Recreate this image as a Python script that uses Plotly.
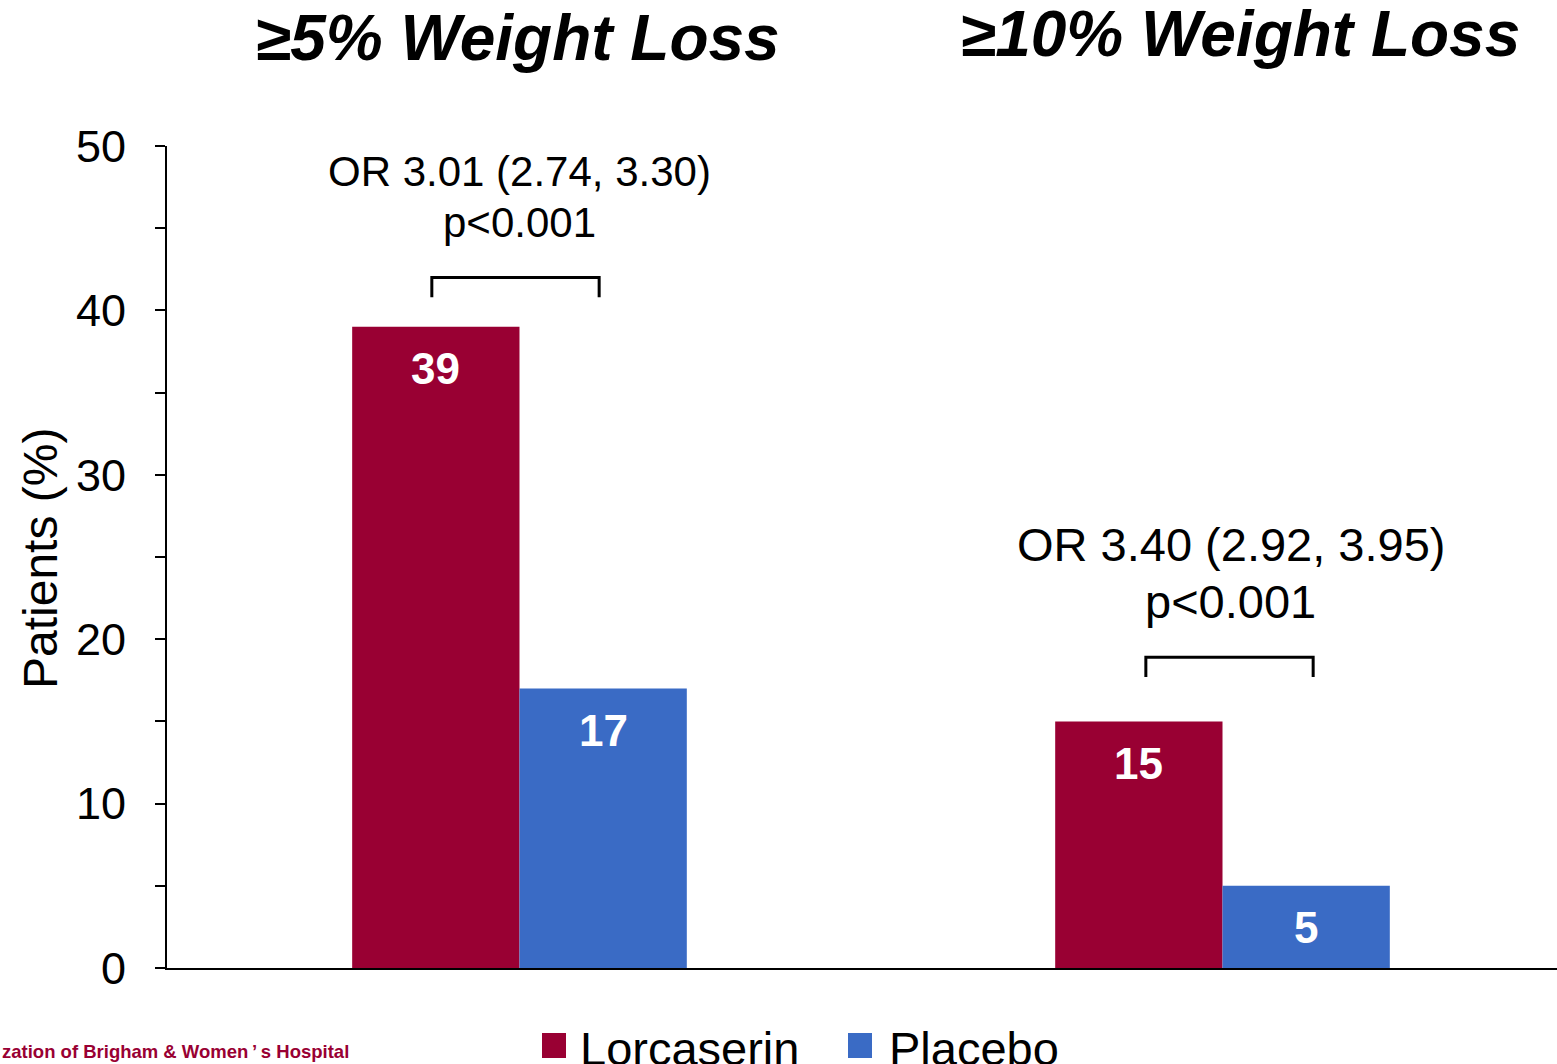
import plotly.graph_objects as go

# ---------------- data ----------------
categories = ["≥5% Weight Loss", "≥10% Weight Loss"]
series_names = ["Lorcaserin", "Placebo"]
lorcaserin = [39, 15]
placebo = [17, 5]
or_text = ["OR 3.01 (2.74, 3.30)", "OR 3.40 (2.92, 3.95)"]
p_text = ["p<0.001", "p<0.001"]
bracket_top = [42.0, 18.9]
y_ticks = [0, 10, 20, 30, 40, 50]
y_title = "Patients (%)"
footer = "zation of Brigham & Women\u2009’\u2009s Hospital"

# ---------------- styling ----------------
W, H = 1557, 1064
L, T, B = 167, 146, 96
PW, PH = W - L, H - T - B
COLORS = ["#990033", "#3A6BC5"]
FONT = "Liberation Sans, Arial, sans-serif"
BAR_W = 0.238
UNIT_PX = 703.0  # pixels per category step

def px(x):
    return (x - L) / PW

def py(y):
    return (T + PH - y) / PH

xs = list(range(len(categories)))

fig = go.Figure()
for name, vals, col in zip(series_names, [lorcaserin, placebo], COLORS):
    fig.add_trace(go.Bar(x=xs, y=vals, name=name, marker=dict(color=col, line=dict(width=0)),
                         showlegend=False, hoverinfo="skip"))

ann = []
shapes = []
# group titles
title_pos = [(517, 38), (1240, 34)]
for cat, (tx, ty) in zip(categories, title_pos):
    ann.append(dict(text="<b><i>" + cat + "</i></b>", xref="paper", yref="paper", x=px(tx), y=py(ty),
                    xanchor="center", yanchor="middle", showarrow=False,
                    font=dict(family=FONT, size=64, color="black")))

# value labels inside bars
for i in xs:
    for j, vals in enumerate([lorcaserin, placebo]):
        xc = i + (j - 0.5) * BAR_W
        ann.append(dict(text="<b>%d</b>" % vals[i], xref="x", yref="y", x=xc, y=vals[i],
                        xanchor="center", yanchor="middle", yshift=-42, showarrow=False,
                        font=dict(family=FONT, size=44, color="white")))

# OR annotations and brackets
or_sizes = [42, 47]
or_y = [(172, 222), (544, 601)]
or_dx = [0, 8]
bracket_dx = [-4, 7]
for i in xs:
    for txt, yy in zip([or_text[i], p_text[i]], or_y[i]):
        ann.append(dict(text=txt, xref="x", yref="paper", x=i, y=py(yy), xshift=or_dx[i],
                        xanchor="center", yanchor="middle", showarrow=False,
                        font=dict(family=FONT, size=or_sizes[i], color="black")))
    off = bracket_dx[i] / UNIT_PX
    x0 = i - 0.5 * BAR_W + off
    x1 = i + 0.5 * BAR_W + off
    yt = bracket_top[i]
    yb = yt - 1.2
    shapes.append(dict(type="path", xref="x", yref="y",
                       path=f"M{x0},{yb} L{x0},{yt} L{x1},{yt} L{x1},{yb}",
                       line=dict(color="black", width=3)))

# y-axis title
ann.append(dict(text=y_title, xref="paper", yref="paper", x=px(40), y=py(559), textangle=-90,
                xanchor="center", yanchor="middle", showarrow=False,
                font=dict(family=FONT, size=48, color="black")))

# custom legend
leg_sq = [(542, 566), (848, 872)]
leg_tx = [578, 887]
for name, col, (s0, s1), tx in zip(series_names, COLORS, leg_sq, leg_tx):
    shapes.append(dict(type="rect", xref="paper", yref="paper", x0=px(s0), x1=px(s1),
                       y0=py(1058), y1=py(1033), fillcolor=col, line=dict(width=0)))
    ann.append(dict(text=name, xref="paper", yref="paper", x=px(tx), y=py(1048),
                    xanchor="left", yanchor="middle", showarrow=False,
                    font=dict(family=FONT, size=47, color="black")))

# footer
ann.append(dict(text="<b>" + footer + "</b>", xref="paper", yref="paper", x=px(0), y=py(1051),
                xanchor="left", yanchor="middle", showarrow=False,
                font=dict(family=FONT, size=18.5, color="#990033")))

fig.update_layout(
    width=W, height=H,
    margin=dict(l=L, r=0, t=T, b=B, pad=0),
    paper_bgcolor="white", plot_bgcolor="white",
    barmode="group", bargap=0.524, bargroupgap=0,
    showlegend=False,
    annotations=ann, shapes=shapes,
    xaxis=dict(range=[-0.5014, 0.4758 + 1], showticklabels=False, ticks="", showgrid=False,
               zeroline=False, showline=True, linecolor="black", linewidth=2),
    yaxis=dict(range=[0, 50], tickvals=y_ticks, ticks="outside", ticklen=10, tickwidth=1.5,
               tickcolor="black", showgrid=False, zeroline=False, showline=True,
               linecolor="black", linewidth=2, ticklabelstandoff=20,
               tickfont=dict(family=FONT, size=45, color="black"),
               minor=dict(dtick=5, ticks="outside", ticklen=10, tickwidth=1.5, tickcolor="black")),
)

fig.write_html("out.html")
